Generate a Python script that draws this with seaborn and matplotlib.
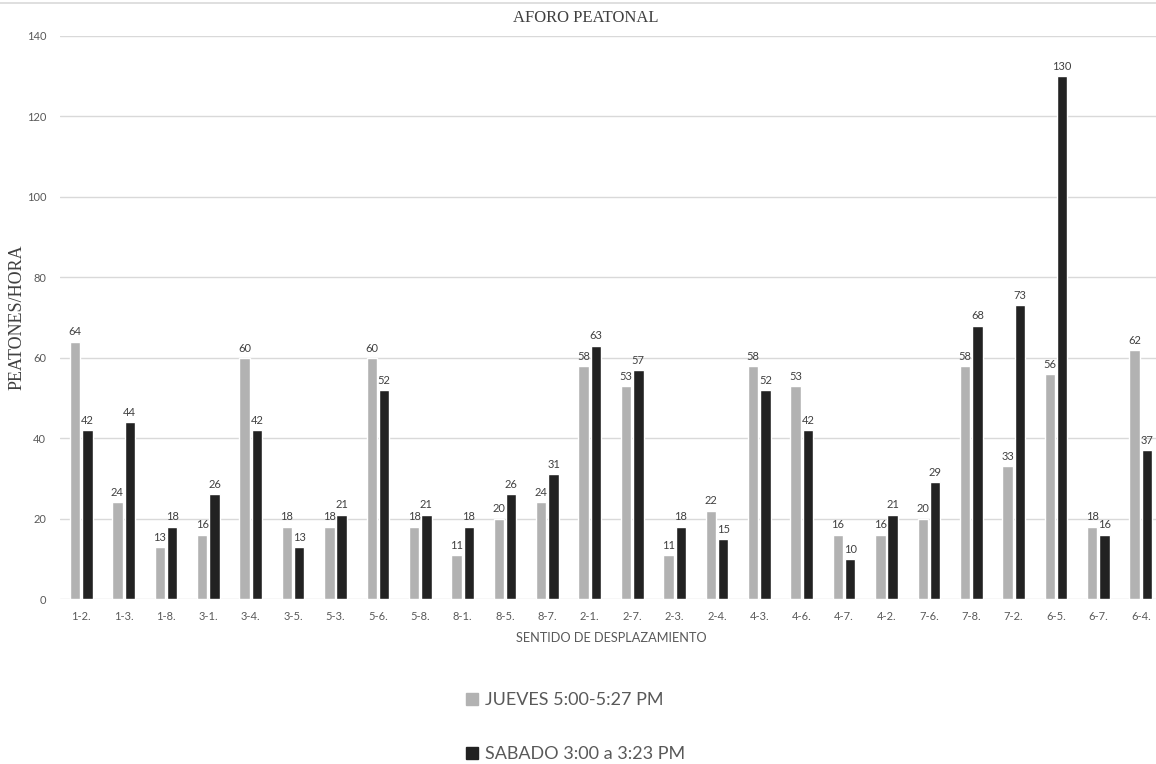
import matplotlib
matplotlib.use("Agg")
import matplotlib.pyplot as plt
from matplotlib.lines import Line2D
import pandas as pd
import seaborn as sns

# Direction of travel between nodes
sentidos = ['1-2.', '1-3.', '1-8.', '3-1.', '3-4.', '3-5.', '5-3.', '5-6.', '5-8.',
            '8-1.', '8-5.', '8-7.', '2-1.', '2-7.', '2-3.', '2-4.', '4-3.', '4-6.',
            '4-7.', '4-2.', '7-6.', '7-8.', '7-2.', '6-5.', '6-7.', '6-4.']
jueves = [64, 24, 13, 16, 60, 18, 18, 60, 18, 11, 20, 24, 58, 53, 11, 22, 58, 53,
          16, 16, 20, 58, 33, 56, 18, 62]
sabado = [42, 44, 18, 26, 42, 13, 21, 52, 21, 18, 26, 31, 63, 57, 18, 15, 52, 42,
          10, 21, 29, 68, 73, 130, 16, 37]
series = ['JUEVES 5:00-5:27 PM', 'SABADO 3:00 a 3:23 PM']
y_ticks = [0, 20, 40, 60, 80, 100, 120, 140]

df = pd.DataFrame({
    'sentido': sentidos * 2,
    'peatones': jueves + sabado,
    'serie': [series[0]] * len(sentidos) + [series[1]] * len(sentidos),
})

sns.set_theme(style='white')
plt.rcParams['font.family'] = ['Lato', 'DejaVu Sans']

W, H = 1156, 764
fig = plt.figure(figsize=(W / 100, H / 100), dpi=100)
fig.patch.set_facecolor('white')
ax = fig.add_axes([60 / W, 1 - 599 / H, 1102 / W, (599 - 36) / H])

palette = {series[0]: '#b2b2b2', series[1]: '#222222'}
sns.barplot(data=df, x='sentido', y='peatones', hue='serie', order=sentidos,
            hue_order=series, palette=palette, width=0.58, gap=0.16,
            saturation=1, errorbar=None, ax=ax, zorder=3)

for cont in ax.containers:
    ax.bar_label(cont, fmt='%d', padding=3, fontsize=8, color='#404040')

ax.set_ylim(0, 140)
ax.set_yticks(y_ticks)
ax.set_xlim(-0.5, len(sentidos) - 0.5)
ax.grid(axis='y', color='#d9d9d9', linewidth=1.0, zorder=0)
ax.set_axisbelow(True)
for s in ax.spines.values():
    s.set_visible(False)
ax.tick_params(axis='both', length=0, labelsize=8, colors='#595959')
ax.tick_params(axis='x', pad=9)
ax.tick_params(axis='y', pad=10)

ax.set_xlabel('SENTIDO DE DESPLAZAMIENTO', fontsize=9.2, color='#595959', labelpad=7)
ax.set_ylabel('PEATONES/HORA', fontsize=13, color='#404040', family='Liberation Serif')
ax.yaxis.set_label_coords(-34 / 1102, 0.5)
fig.text(586 / W, 1 - 18 / H, 'AFORO PEATONAL', ha='center', va='center',
         fontsize=12, color='#404040', family='Liberation Serif')

# thin frame line along the top of the chart area
fig.add_artist(Line2D([0, 1], [1 - 3 / H, 1 - 3 / H], color='#d9d9d9', linewidth=1.2))

ax.get_legend().remove()
handles = [plt.Rectangle((0, 0), 1, 1, color=palette[s]) for s in series]
leg = fig.legend(handles, series, loc='upper left',
                 bbox_to_anchor=(461 / W, 1 - 687 / H), frameon=True,
                 fancybox=False, edgecolor='white', facecolor='white', framealpha=1,
                 fontsize=13, labelcolor='#595959', handlelength=0.65,
                 handleheight=0.65, handletextpad=0.4, labelspacing=2.1,
                 borderpad=0.3, borderaxespad=0)

fig.savefig('out.png', dpi=100)
